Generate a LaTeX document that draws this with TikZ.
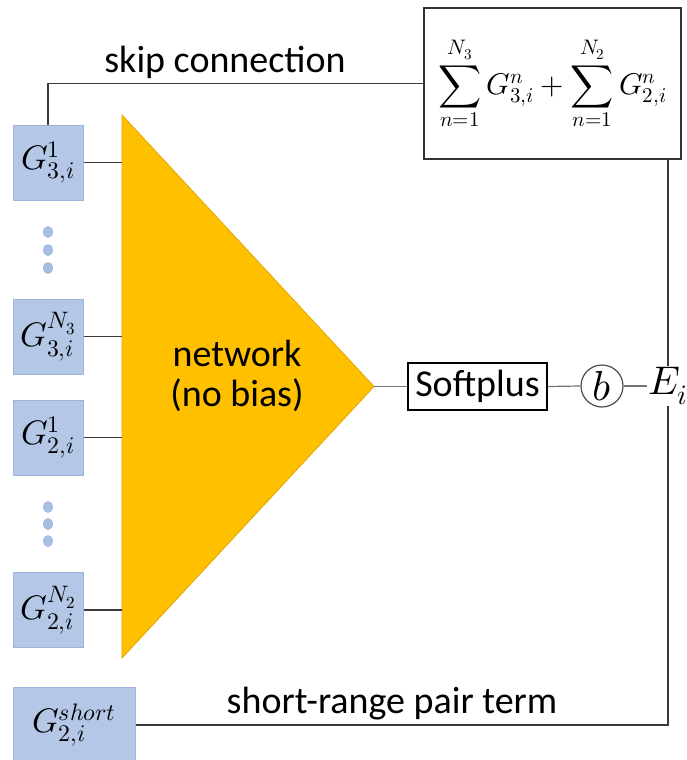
\documentclass[tikz,border=0pt]{standalone}
\usepackage{fontspec}
\usepackage{unicode-math}
\setmainfont{Carlito}
\setmathfont{Latin Modern Math}
\definecolor{inblue}{HTML}{B4C7E7}
\definecolor{inedge}{HTML}{9DB3DE}
\definecolor{netgold}{HTML}{FFC000}
\definecolor{netedge}{HTML}{E0A600}
\definecolor{dotblue}{HTML}{A8BDE4}
\definecolor{wirecol}{HTML}{3A3A3A}
\tikzset{
  inbox/.style={draw=inedge, fill=inblue, line width=1pt, minimum width=70pt,
    minimum height=75pt, inner sep=0pt, font=\fontsize{34}{38}\selectfont},
  wire/.style={draw=wirecol, line width=1.8pt},
  thinwire/.style={draw=black!55, line width=1.2pt},
  txt/.style={font=\fontsize{38}{40}\selectfont},
}
\begin{document}
\begin{tikzpicture}[x=1pt,y=-1pt]
    \useasboundingbox (0,0) rectangle (686,760);

    % Input descriptors
    \node[inbox] (g31) at (48,162.5) {$G_{3,i}^{1}$};
    \node[inbox] (g3N) at (48,336.5) {$G_{3,i}^{N_3}$};
    \node[inbox] (g21) at (48,437.5) {$G_{2,i}^{1}$};
    \node[inbox] (g2N) at (48,610) {$G_{2,i}^{N_2}$};
    \node[inbox, minimum width=122pt] (gsh) at (74,725) {$G_{2,i}^{short}$};

    % vertical dots between the inputs
    \foreach \y in {232,250,268,507,524,541}
        \fill[dotblue] (48,\y) ellipse (5pt and 6pt);

    % Network triangle
    \coordinate (ntop) at (122,115);
    \coordinate (ntip) at (374,386.5);
    \coordinate (nbot) at (122,658);
    \filldraw[fill=netgold, draw=netedge, line width=0.8pt] (ntop) -- (ntip) -- (nbot) -- cycle;
    \node[txt, align=center] (net) at (237,376) {network\\(no bias)};

    % Output chain
    \node[draw=black, line width=1.2pt, txt, minimum width=139pt, minimum height=47pt,
        inner sep=0pt] (sp) at (477.5,386.5) {Softplus};
    \node[circle, draw=black!70, line width=1.2pt, minimum size=42pt, inner sep=0pt,
        font=\fontsize{42}{44}\selectfont] (b) at (602,386) {$b$};
    \node[font=\fontsize{40}{44}\selectfont, inner sep=1pt] (E) at (668,386) {$E_i$};

    % Sum box
    \node[draw=black!80, line width=1.5pt, minimum width=257pt, minimum height=151pt,
        font=\fontsize{30}{34}\selectfont] (sum) at (552.5,83.5)
        {$\displaystyle\sum_{n=1}^{N_3} G_{3,i}^{n} + \sum_{n=1}^{N_2} G_{2,i}^{n}$};

    % Connectors
    \foreach \n in {g31,g3N,g21,g2N}
        \draw[wire] (\n.east) -- (\n.east -| ntop);
    \draw[thinwire] (ntip) -- (sp.west);
    \draw[thinwire] (sp.east) -- (b.west);
    \draw[thinwire] (b.east) -- (E.west);

    % skip connection and pair term
    \draw[wire] (g31.north) |- (sum.west);
    \node[txt, anchor=base] (skip) at (225,73) {skip connection};
    \draw[wire] (sum.south -| E) -- (E.north);
    \draw[wire] (E.south) |- (gsh.east);
    \node[txt, anchor=base] (pair) at (392,713) {short-range pair term};
\end{tikzpicture}
\end{document}
